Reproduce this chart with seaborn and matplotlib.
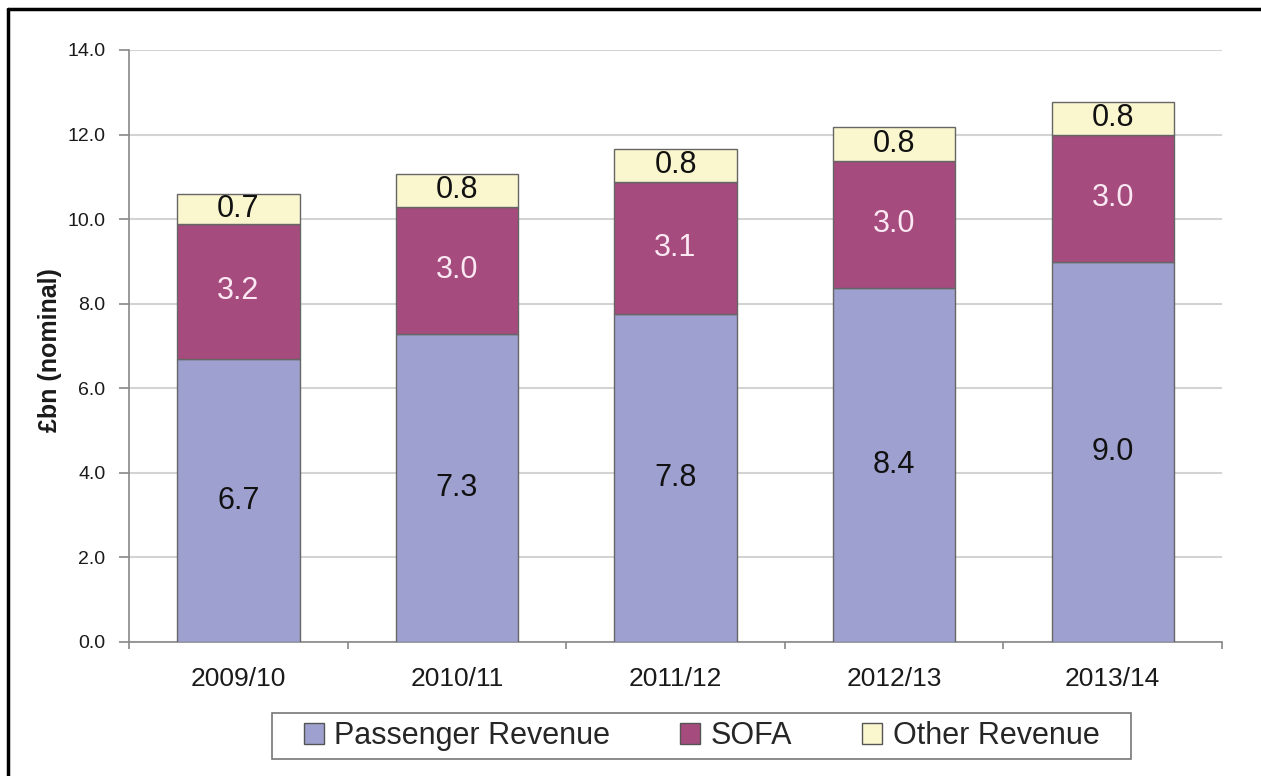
import matplotlib
matplotlib.use('Agg')
import matplotlib.pyplot as plt
import seaborn as sns
import numpy as np
from matplotlib.patches import Rectangle, Patch
from matplotlib.lines import Line2D

# ---- data ----
years = ["2009/10", "2010/11", "2011/12", "2012/13", "2013/14"]
passenger = [6.69, 7.29, 7.76, 8.37, 8.98]
sofa = [3.20, 3.00, 3.11, 3.01, 3.02]
other = [0.71, 0.78, 0.80, 0.81, 0.76]
series_names = ["Passenger Revenue", "SOFA", "Other Revenue"]
y_ticks = [0, 2, 4, 6, 8, 10, 12, 14]
y_label = "£bn (nominal)"

colors = ["#9ea0cf", "#a54b7d", "#faf6ce"]
label_colors = ["#111111", "#fbe8f3", "#111111"]

sns.set_theme(style="white")
plt.rcParams['font.family'] = ['Liberation Sans', 'DejaVu Sans']

fig = plt.figure(figsize=(12.61, 7.76), dpi=100)
ax = fig.add_axes([0.1023, 0.1727, 0.8668, 0.7629])

bottom = np.zeros(len(years))
for vals, col, tcol in zip([passenger, sofa, other], colors, label_colors):
    sns.barplot(x=years, y=vals, bottom=bottom.copy(), color=col, saturation=1,
                width=0.56, edgecolor="#666666", linewidth=1.0, errorbar=None,
                ax=ax, zorder=3)
    cont = ax.containers[-1]
    ax.bar_label(cont, labels=[f"{v:.1f}" for v in vals], label_type="center",
                 fontsize=22, color=tcol, zorder=4)
    bottom = bottom + np.array(vals)

ax.set_ylim(0, 14)
ax.set_xlim(-0.5, len(years) - 0.5)
ax.set_yticks(y_ticks)
ax.set_yticklabels([f"{t:.1f}" for t in y_ticks])
ax.yaxis.grid(True, color="#d3d3d3", lw=1.5, zorder=0)
ax.set_axisbelow(True)

ax.tick_params(axis="y", left=True, length=7, width=1.2, color="#888888",
               pad=10, labelsize=14, labelcolor="#1a1a1a")
ax.tick_params(axis="x", which="major", length=0, pad=18, labelsize=19,
               labelcolor="#1a1a1a")
ax.set_xticks(np.arange(-0.5, len(years), 1), minor=True)
ax.tick_params(axis="x", which="minor", bottom=True, length=5, width=1.2,
               color="#888888")

for s in ["top", "right"]:
    ax.spines[s].set_visible(False)
for s in ["left", "bottom"]:
    ax.spines[s].set_color("#888888")
    ax.spines[s].set_linewidth(1.2)

ax.set_xlabel("")
ax.set_ylabel(y_label, fontsize=18, fontweight="bold", color="#1a1a1a")
ax.yaxis.set_label_coords(-0.061, 0.493)

# legend
handles = [Patch(facecolor=c, edgecolor="#555555", lw=1.0) for c in colors]
fig.legend(handles=handles, labels=series_names, loc="center",
           bbox_to_anchor=(0.5563, 0.0515), ncol=3, frameon=False, fontsize=22,
           handlelength=0.66, handleheight=0.7, handletextpad=0.33,
           columnspacing=2.3, borderpad=0)
fig.add_artist(Rectangle((272 / 1261, 1 - 759 / 776), (1131 - 272) / 1261, 46 / 776,
                         transform=fig.transFigure, fill=False, ec="#777777", lw=1.2))

# outer frame (top and left)
fx = 8 / 1261
fy = 1 - 9 / 776
fig.add_artist(Line2D([fx, fx], [0, fy], transform=fig.transFigure, color="black", lw=2.5))
fig.add_artist(Line2D([fx, 1], [fy, fy], transform=fig.transFigure, color="black", lw=2.5))

fig.savefig("out.png", dpi=100)
